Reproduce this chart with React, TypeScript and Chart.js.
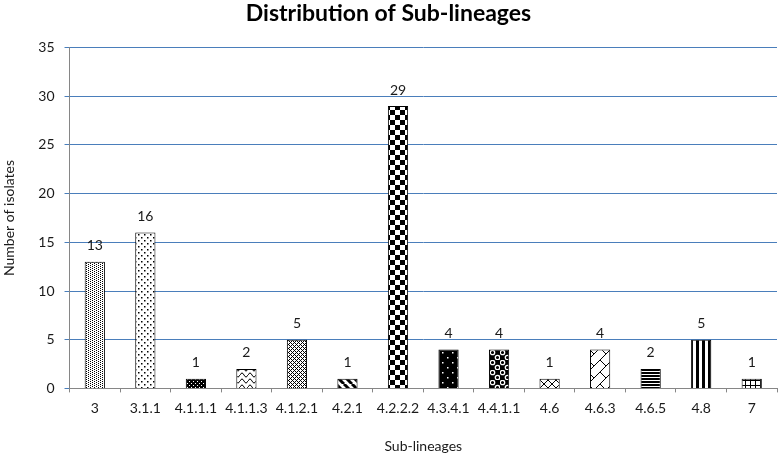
import React, { useEffect, useRef } from 'react';
import { Chart, registerables } from 'chart.js';

Chart.register(...registerables);

const categories = ['3', '3.1.1', '4.1.1.1', '4.1.1.3', '4.1.2.1', '4.2.1', '4.2.2.2', '4.3.4.1', '4.4.1.1', '4.6', '4.6.3', '4.6.5', '4.8', '7'];
const isolates = [13, 16, 1, 2, 5, 1, 29, 4, 4, 1, 4, 2, 5, 1];
const patternNames = ['dotsDense', 'dotsSparse', 'darkConfetti', 'wave', 'smallTrellis', 'wideDownDiag', 'checker', 'darkSparseDots', 'spheres', 'diagCross', 'trellis', 'horizLines', 'vertLines', 'smallGrid'];
const yTicks = [0, 5, 10, 15, 20, 25, 30, 35];

const FONT = 'Lato, "Open Sans", sans-serif';
const TEXT = '#1a1a1a';

function tile(w: number, h: number, draw: (g: CanvasRenderingContext2D) => void, bg = '#fff'): CanvasPattern {
  const c = document.createElement('canvas');
  c.width = w;
  c.height = h;
  const g = c.getContext('2d')!;
  g.fillStyle = bg;
  g.fillRect(0, 0, w, h);
  g.fillStyle = bg === '#fff' ? '#000' : '#fff';
  g.strokeStyle = bg === '#fff' ? '#000' : '#fff';
  draw(g);
  return g.createPattern(c, 'repeat')!;
}

function makePattern(name: string): CanvasPattern {
  switch (name) {
    case 'dotsDense':
      return tile(4, 2, (g) => { g.fillRect(0, 0, 1, 1); g.fillRect(2, 1, 1, 1); });
    case 'dotsSparse':
      return tile(6, 6, (g) => { g.fillRect(0, 0, 1.5, 1.5); g.fillRect(3, 3, 1.5, 1.5); });
    case 'darkConfetti':
      return tile(4, 4, (g) => { g.fillRect(1, 1, 1, 1); g.fillRect(3, 3, 1, 1); }, '#000');
    case 'wave':
      return tile(8, 6, (g) => {
        g.lineWidth = 1;
        g.beginPath();
        g.moveTo(0, 3);
        g.quadraticCurveTo(2, -1, 4, 3);
        g.quadraticCurveTo(6, 7, 8, 3);
        g.stroke();
      });
    case 'smallTrellis':
      return tile(4, 4, (g) => {
        for (let x = 0; x < 4; x++) for (let y = 0; y < 4; y++) {
          if ((x + y) % 4 === 0 || (x - y + 4) % 4 === 0) g.fillRect(x, y, 1, 1);
        }
      });
    case 'wideDownDiag':
      return tile(8, 8, (g) => {
        g.lineWidth = 3;
        for (const o of [-8, 0, 8]) {
          g.beginPath();
          g.moveTo(o, 0);
          g.lineTo(o + 8, 8);
          g.stroke();
        }
      });
    case 'checker':
      return tile(10, 10, (g) => { g.fillRect(0, 0, 5, 5); g.fillRect(5, 5, 5, 5); });
    case 'darkSparseDots':
      return tile(10, 10, (g) => { g.fillRect(2, 2, 1.5, 1.5); g.fillRect(7, 7, 1.5, 1.5); }, '#000');
    case 'spheres':
      return tile(10, 10, (g) => {
        g.lineWidth = 1.3;
        for (const [cx, cy] of [[2.5, 2.5], [7.5, 7.5]]) {
          g.beginPath();
          g.arc(cx, cy, 2.2, 0, Math.PI * 2);
          g.stroke();
        }
      }, '#000');
    case 'diagCross':
      return tile(8, 8, (g) => {
        g.lineWidth = 1;
        g.beginPath();
        g.moveTo(0, 0); g.lineTo(8, 8);
        g.moveTo(8, 0); g.lineTo(0, 8);
        g.stroke();
      });
    case 'trellis':
      return tile(12, 12, (g) => {
        g.lineWidth = 1;
        g.beginPath();
        g.moveTo(0, 12); g.lineTo(12, 0);
        g.moveTo(-6, 6); g.lineTo(6, -6);
        g.moveTo(6, 18); g.lineTo(18, 6);
        g.moveTo(0, 0); g.lineTo(6, 6);
        g.stroke();
      });
    case 'horizLines':
      return tile(2, 3, (g) => { g.fillRect(0, 0, 2, 2); });
    case 'vertLines':
      return tile(6, 2, (g) => { g.fillRect(0, 0, 3, 2); });
    case 'smallGrid':
    default:
      return tile(5, 5, (g) => { g.fillRect(0, 0, 5, 1); g.fillRect(0, 0, 1, 5); });
  }
}

const valueLabels = {
  id: 'valueLabels',
  afterDatasetsDraw(chart: any) {
    const { ctx } = chart;
    const meta = chart.getDatasetMeta(0);
    ctx.save();
    ctx.font = `14px ${FONT}`;
    ctx.fillStyle = TEXT;
    ctx.textAlign = 'center';
    ctx.textBaseline = 'bottom';
    meta.data.forEach((bar: any, i: number) => {
      ctx.fillText(String(isolates[i]), bar.x, bar.y - 9);
    });
    ctx.restore();
  },
};

export default function App() {
  const ref = useRef<HTMLCanvasElement>(null);

  useEffect(() => {
    document.body.style.margin = '0';
    const canvas = ref.current!;
    const patterns = patternNames.map(makePattern);
    const chart = new Chart(canvas, {
      type: 'bar',
      data: {
        labels: categories,
        datasets: [
          {
            data: isolates,
            backgroundColor: patterns as any,
            borderColor: '#000',
            borderWidth: 1,
            barPercentage: 0.4,
            categoryPercentage: 1,
          },
        ],
      },
      options: {
        animation: false,
        responsive: false,
        maintainAspectRatio: false,
        devicePixelRatio: 1,
        layout: { padding: { left: 0, right: 2, top: 0, bottom: 0 } },
        plugins: {
          legend: { display: false },
          tooltip: { enabled: false },
          title: {
            display: true,
            text: 'Distribution of Sub-lineages',
            color: '#000',
            font: { family: FONT, size: 23, weight: 'bold' },
            padding: { top: 0, bottom: 20 },
          },
        },
        scales: {
          x: {
            grid: { drawOnChartArea: false, drawTicks: true, tickLength: 4, color: '#868686', offset: true },
            border: { display: true, color: '#868686' },
            ticks: { color: TEXT, font: { family: FONT, size: 14 }, padding: 7.5, maxRotation: 0, autoSkip: false },
            title: {
              display: true,
              text: 'Sub-lineages',
              color: TEXT,
              font: { family: FONT, size: 14 },
              padding: { top: 14, bottom: 2 },
            },
          },
          y: {
            min: 0,
            max: 35,
            afterBuildTicks: (axis: any) => {
              axis.ticks = yTicks.map((v) => ({ value: v }));
            },
            grid: { color: '#4a7ebb', tickLength: 5, drawTicks: true },
            border: { display: true, color: '#868686' },
            ticks: { color: TEXT, font: { family: FONT, size: 14 }, padding: 10 },
            title: {
              display: true,
              text: 'Number of isolates',
              color: TEXT,
              font: { family: FONT, size: 14 },
              padding: { top: 1, bottom: 10.5 },
            },
          },
        },
      },
      plugins: [valueLabels],
    });
    return () => chart.destroy();
  }, []);

  return (
    <div style={{ width: 779, height: 457 }}>
      <canvas ref={ref} width={779} height={457} style={{ display: 'block', width: 779, height: 457 }} />
    </div>
  );
}
